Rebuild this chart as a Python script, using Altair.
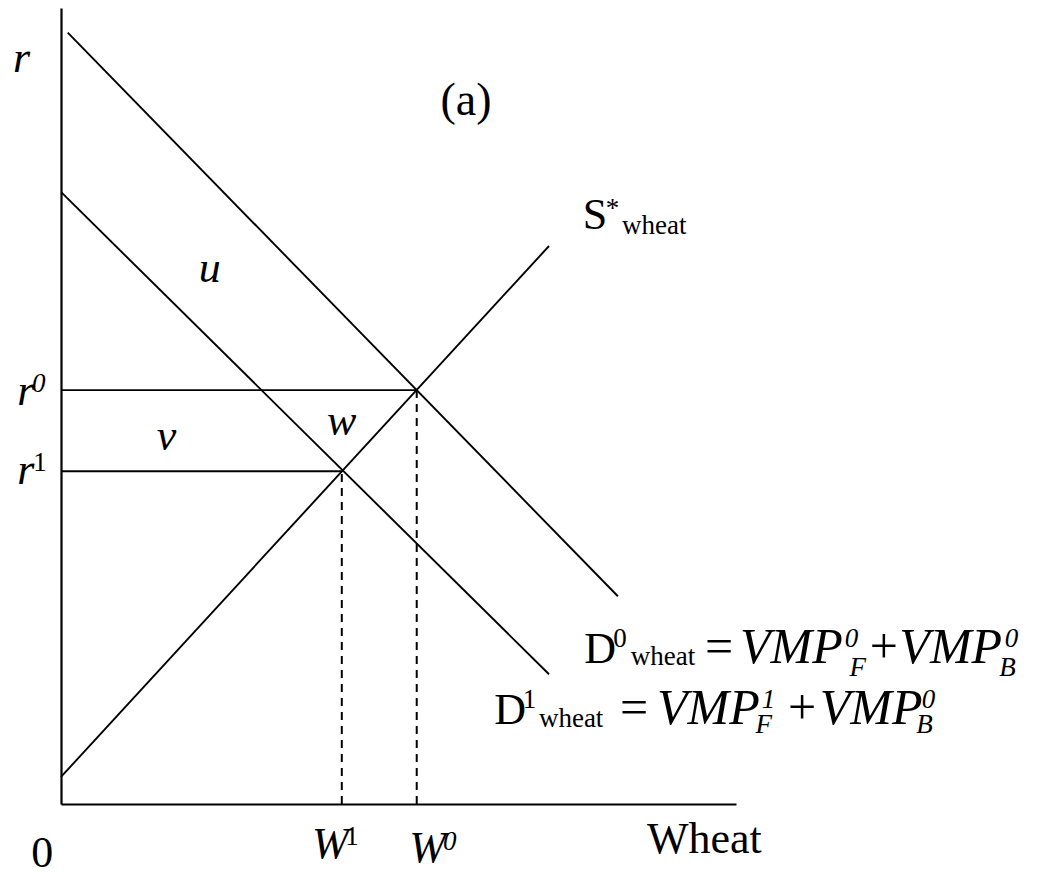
import altair as alt
import pandas as pd

# Straight-line schedules, each given by its two end points (wheat quantity, rate)
supply_q = [0.0, 72.3]
supply_r = [3.4, 70.1]
demand0_q = [1.0, 82.5]
demand0_r = [96.9, 26.1]
demand1_q = [0.1, 72.3]
demand1_r = [76.8, 16.3]

# Market equilibria before (0) and after (1) the shift in demand
eq_names = ["0", "1"]
eq_wheat = [52.7, 41.6]
eq_rate = [52.0, 41.8]

# Annotation pieces: text, anchor (left edge / baseline) in axis units, style
label_text = [
    "r", "(a)", "S", "*", "wheat", "u", "v", "w",
    "r", "0", "r", "1",
    "0", "W", "1", "W", "0", "Wheat",
    "D", "0", "wheat", "=", "VMP", "0", "F", "+", "VMP", "0", "B",
    "D", "1", "wheat", "=", "VMP", "1", "F", "+", "VMP", "0", "B",
]
label_x = [
    -7.1, 60.0, 77.3, 80.7, 83.1, 20.4, 14.2, 39.4,
    -6.5, -4.3, -6.5, -4.1,
    -4.4, 37.2, 42.1, 51.6, 56.6, 86.8,
    77.5, 81.8, 84.4, 95.4, 100.6, 116.1, 116.8, 119.8, 124.2, 139.8, 139.0,
    64.2, 68.4, 70.8, 82.8, 88.3, 103.8, 102.9, 107.7, 112.4, 127.5, 126.7,
]
label_y = [
    92.0, 86.6, 72.2, 73.7, 71.6, 65.6, 44.5, 46.4,
    50.1, 51.8, 40.2, 41.8,
    -7.9, -6.8, -5.2, -7.3, -5.8, -6.2,
    17.7, 19.7, 17.5, 17.7, 17.7, 19.7, 16.1, 17.7, 17.7, 19.7, 16.1,
    10.1, 12.1, 9.7, 10.1, 10.1, 12.1, 8.9, 10.1, 10.1, 12.1, 8.9,
]
label_style = [
    "it", "title", "up", "small", "small", "it", "it", "it",
    "it", "small_it", "it", "small",
    "up", "it", "small", "it", "small_it", "up",
    "up", "small", "small", "op", "eq_it", "small_it", "small_it", "op", "eq_it", "small_it", "small_it",
    "up", "small", "small", "op", "eq_it", "small_it", "small_it", "op", "eq_it", "small_it", "small_it",
]

SERIF = "Liberation Serif"
STYLES = {
    "up": dict(fontSize=44, fontStyle="normal", align="left"),
    "it": dict(fontSize=44, fontStyle="italic", align="left"),
    "eq_it": dict(fontSize=50, fontStyle="italic", align="left"),
    "op": dict(fontSize=50, fontStyle="normal", align="left"),
    "small": dict(fontSize=27, fontStyle="normal", align="left"),
    "small_it": dict(fontSize=27, fontStyle="italic", align="left"),
    "title": dict(fontSize=46, fontStyle="normal", align="center"),
}

curves = pd.DataFrame({
    "q": supply_q + demand0_q + demand1_q,
    "r": supply_r + demand0_r + demand1_r,
    "curve": ["S"] * 2 + ["D0"] * 2 + ["D1"] * 2,
})
equilibria = pd.DataFrame({"name": eq_names, "q": eq_wheat, "r": eq_rate, "origin": [0.0, 0.0]})
labels = pd.DataFrame({"t": label_text, "x": label_x, "y": label_y, "style": label_style})

x_scale = alt.Scale(domain=[0, 100], nice=False, zero=False)
y_scale = alt.Scale(domain=[0, 100], nice=False, zero=False)
axis = alt.Axis(labels=False, ticks=False, grid=False, title="", domainColor="black", domainWidth=2.2)

lines = alt.Chart(curves).mark_line(color="black", strokeWidth=1.9).encode(
    x=alt.X("q:Q", scale=x_scale, axis=axis),
    y=alt.Y("r:Q", scale=y_scale, axis=axis),
    detail="curve:N",
)

rate_rules = alt.Chart(equilibria).mark_rule(color="black", strokeWidth=1.9).encode(
    x="origin:Q", x2="q:Q", y="r:Q",
)

wheat_rules = alt.Chart(equilibria).mark_rule(color="black", strokeWidth=2, strokeDash=[8, 6]).encode(
    x="q:Q", y="origin:Q", y2="r:Q",
)

text_layers = []
for name, props in STYLES.items():
    text_layers.append(
        alt.Chart(labels).transform_filter(alt.datum.style == name).mark_text(
            font=SERIF, color="black", baseline="alphabetic", **props
        ).encode(x="x:Q", y="y:Q", text="t:N")
    )

chart = alt.layer(lines, rate_rules, wheat_rules, *text_layers).properties(
    width=675,
    height=796,
    autosize=alt.AutoSizeParams(type="none"),
    padding={"left": 61, "top": 8, "right": 304, "bottom": 69},
    background="white",
).configure_view(strokeWidth=0)

chart.save("out.html", embed_options={"renderer": "svg", "actions": False})
